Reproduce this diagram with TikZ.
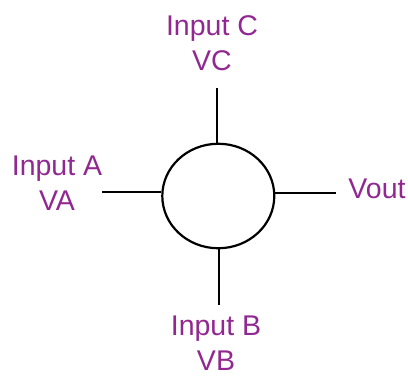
\documentclass[tikz,border=0pt]{standalone}
\usepackage{fontspec}
\setmainfont{Liberation Sans}
\usetikzlibrary{shapes.geometric}
\definecolor{lbl}{HTML}{912891}
\begin{document}
\begin{tikzpicture}[x=1pt,y=-1pt,
  wire/.style={draw=black,line width=2pt},
  lab/.style={text=lbl,align=center,inner sep=0pt,anchor=base,
    font=\fontsize{28.5}{35}\selectfont}]
\useasboundingbox (0,0) rectangle (408,376);
\node[draw,ellipse,line width=2.2pt,inner sep=0pt,minimum width=112pt,minimum height=104.5pt] (e) at (218.3,196) {};
\coordinate (ct) at (217,88);
\coordinate (cb) at (219.3,304.5);
\coordinate (cl) at (102.3,191.7);
\coordinate (cr) at (336,193.3);
\draw[wire] (ct) -- (ct |- e.north);
\draw[wire] (cb) -- (cb |- e.south);
\draw[wire] (cl) -- (cl -| e.west);
\draw[wire] (cr) -- (cr -| e.east);
\node[lab] (lc) at (212,70.5) {Input C\\VC};
\node[lab] (la) at (57,210) {Input A\\VA};
\node[lab] (lb) at (216,370.5) {Input B\\VB};
\node[lab] (lv) at (377,198.3) {Vout};
\end{tikzpicture}
\end{document}
